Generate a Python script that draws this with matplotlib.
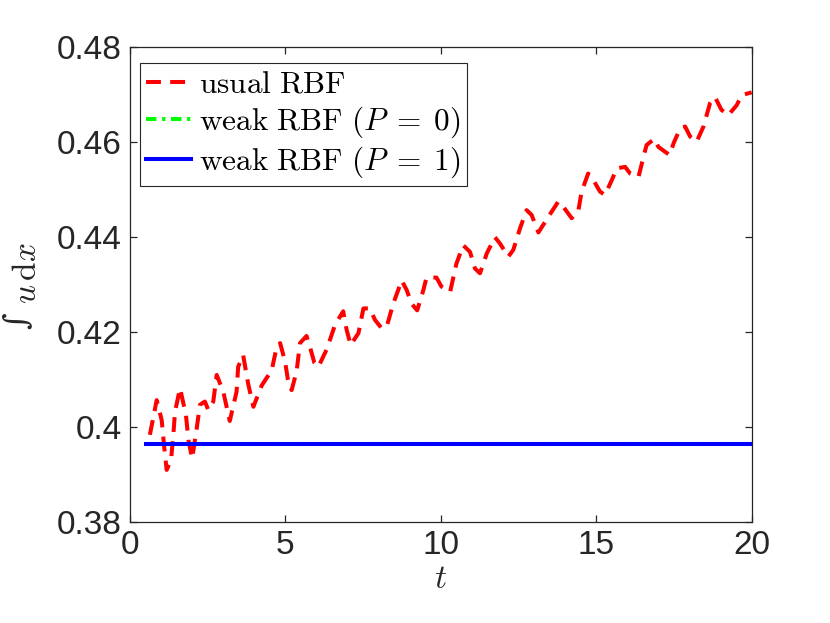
import matplotlib
matplotlib.use("Agg")
import matplotlib.pyplot as plt
from matplotlib.ticker import FuncFormatter

plt.rcParams['mathtext.fontset'] = 'cm'
plt.rcParams['font.family'] = ['Liberation Sans', 'DejaVu Sans']

# usual RBF: mass over time
t_usual = [0.64, 0.86, 1.02, 1.10, 1.18, 1.32, 1.39, 1.45, 1.61, 1.80, 1.88, 2.00,
           2.14, 2.25, 2.41, 2.52, 2.68, 2.79, 3.00, 3.21, 3.43, 3.48, 3.64, 3.80,
           3.97, 4.24, 4.56, 4.72, 4.83, 4.99, 5.10, 5.20, 5.36, 5.47, 5.68, 5.79,
           5.93, 6.06, 6.33, 6.60, 6.86, 6.97, 7.10, 7.35, 7.51, 7.72, 7.88, 8.10,
           8.26, 8.47, 8.74, 8.90, 9.06, 9.24, 9.44, 9.54, 9.86, 10.02, 10.30, 10.50,
           10.72, 10.94, 11.10, 11.26, 11.48, 11.74, 11.90, 12.17, 12.33, 12.55, 12.76, 12.92,
           13.14, 13.46, 13.78, 13.94, 14.21, 14.42, 14.53, 14.74, 14.85, 15.12, 15.28, 15.50,
           15.66, 15.93, 16.09, 16.36, 16.52, 16.62, 16.87, 17.00, 17.36, 17.49, 17.70, 17.86,
           18.02, 18.23, 18.45, 18.66, 18.82, 19.03, 19.25, 19.52, 19.68, 19.95, 20.0]
m_usual = [0.3983, 0.4056, 0.4014, 0.3958, 0.3909, 0.3930, 0.3979, 0.4032, 0.4081, 0.4025, 0.3972, 0.3933,
           0.3993, 0.4046, 0.4053, 0.4035, 0.4053, 0.4109, 0.4074, 0.4012, 0.4074, 0.4126, 0.4151, 0.4091,
           0.4042, 0.4087, 0.4119, 0.4168, 0.4176, 0.4137, 0.4091, 0.4077, 0.4116, 0.4176, 0.4191, 0.4168,
           0.4135, 0.4126, 0.4163, 0.4215, 0.4243, 0.4204, 0.4172, 0.4197, 0.4249, 0.4249, 0.4225, 0.4207,
           0.4211, 0.4259, 0.4308, 0.4288, 0.4259, 0.4245, 0.4288, 0.4314, 0.4314, 0.4295, 0.4284, 0.4343,
           0.4382, 0.4368, 0.4333, 0.4323, 0.4365, 0.4399, 0.4386, 0.4358, 0.4372, 0.4418, 0.4456, 0.4446,
           0.4409, 0.4442, 0.4474, 0.4463, 0.4439, 0.4453, 0.4495, 0.4533, 0.4526, 0.4495, 0.4488, 0.4519,
           0.4544, 0.4547, 0.4533, 0.4526, 0.4568, 0.4593, 0.4606, 0.4589, 0.4572, 0.4597, 0.4628, 0.4632,
           0.4611, 0.4600, 0.4632, 0.4681, 0.4694, 0.4667, 0.4656, 0.4677, 0.4698, 0.4703, 0.4704]

# weak RBF: both stay constant
t_weak = [0.5, 20.0]
m_weak_p0 = [0.3964, 0.3964]
m_weak_p1 = [0.3964, 0.3964]

labels = [r'$\mathrm{usual\ RBF}$',
          r'$\mathrm{weak\ RBF\ (}P\;=\;0\mathrm{)}$',
          r'$\mathrm{weak\ RBF\ (}P\;=\;1\mathrm{)}$']

fig = plt.figure(figsize=(8.3, 6.23), dpi=100)
ax = fig.add_axes([0.1566, 0.1626, 0.749, 0.7624])

lw = 2.9
ax.plot(t_usual, m_usual, color='#ff0000', lw=lw, dashes=(3.7, 2.3), label=labels[0])
ax.plot(t_weak, m_weak_p0, color='#00ff00', lw=lw, dashes=(2.6, 1.4, 0.8, 1.4), label=labels[1])
ax.plot(t_weak, m_weak_p1, color='#0000ff', lw=lw, label=labels[2])

ax.set_xlim(0, 20)
ax.set_ylim(0.38, 0.48)
ax.set_xticks([0, 5, 10, 15, 20])
ax.set_yticks([0.38, 0.40, 0.42, 0.44, 0.46, 0.48])
ax.yaxis.set_major_formatter(FuncFormatter(lambda v, p: '%g' % round(v, 4)))

axc = '#262626'
for s in ax.spines.values():
    s.set_color(axc)
    s.set_linewidth(0.9)
ax.tick_params(direction='in', length=5, width=0.9, colors=axc, labelsize=24,
               top=True, right=True, pad=6)

ax.set_xlabel(r'$t$', fontsize=24, color=axc, labelpad=2)
# y label: small (text-style) integral sign followed by u dx
fig.text(28 / 830, 1 - 273 / 623, r'$u\,\mathrm{d}x$', rotation=90, fontsize=24,
         color=axc, ha='center', va='center')
fig.text(17 / 830, 1 - 321 / 623, '\u222b', rotation=90, fontsize=23, family='DejaVu Serif',
         color=axc, ha='center', va='center')

leg = ax.legend(loc='upper left', bbox_to_anchor=(0.016, 0.965), borderaxespad=0,
                fontsize=22.5, handlelength=1.45, handletextpad=0.25, labelspacing=0.15,
                borderpad=0.2, fancybox=False, framealpha=1)
leg.get_frame().set_edgecolor(axc)
leg.get_frame().set_linewidth(0.8)

fig.savefig('out.png', dpi=100)
